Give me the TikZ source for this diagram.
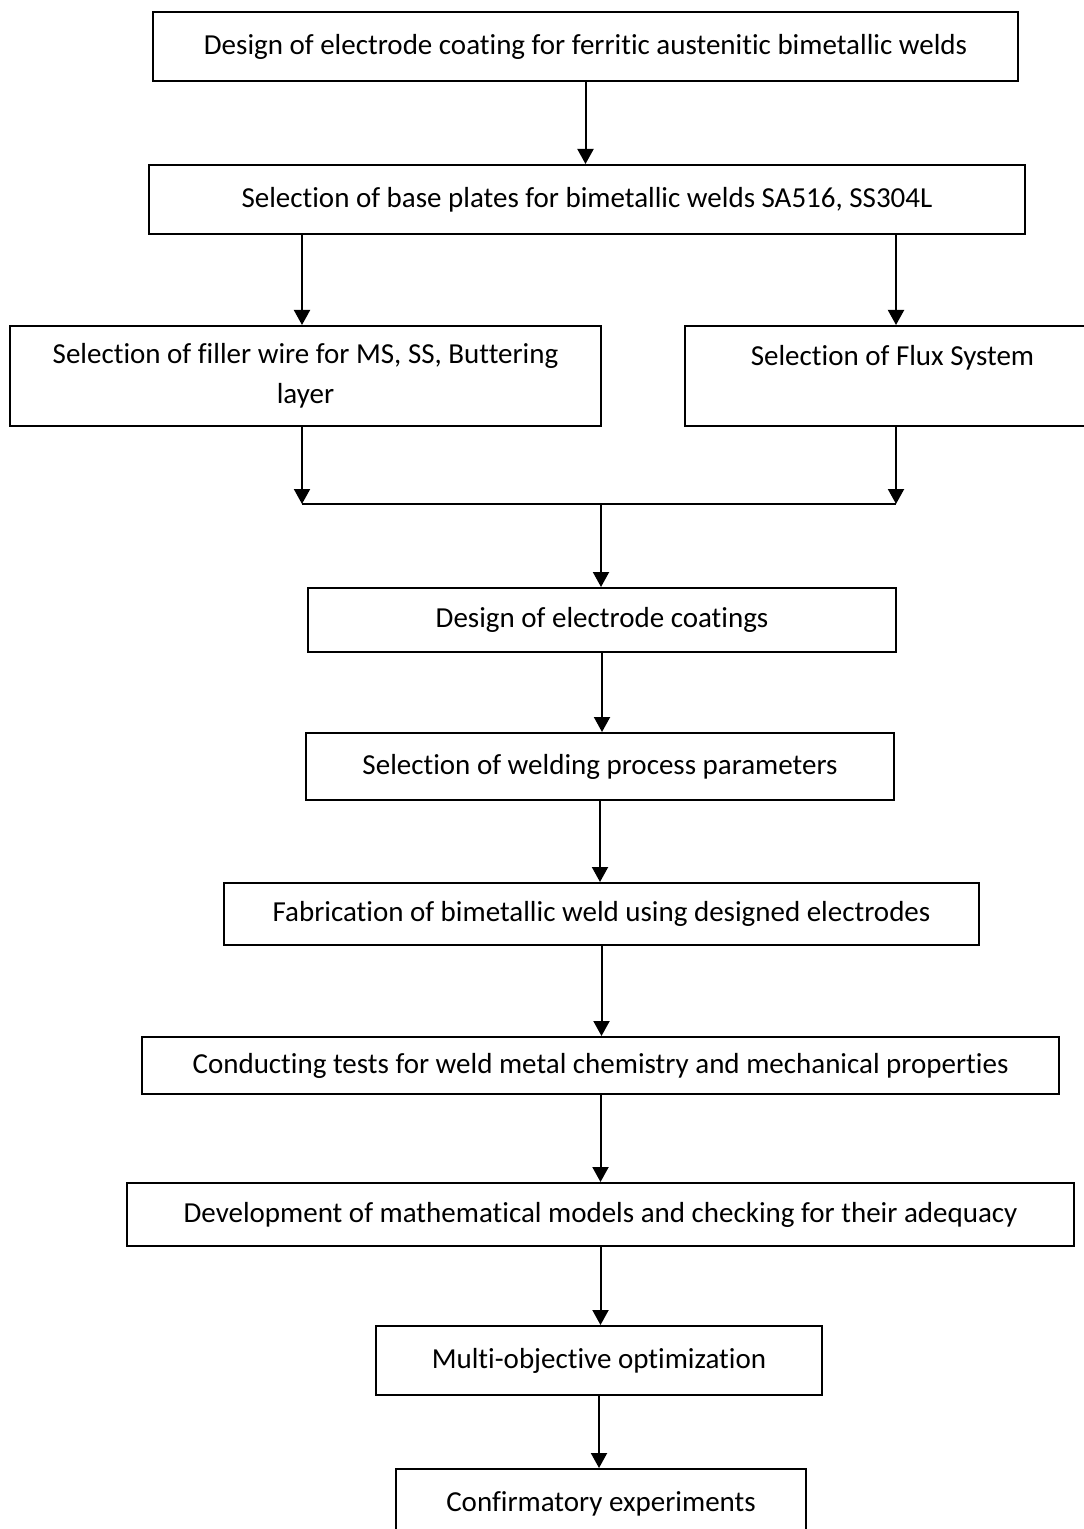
\documentclass[tikz,border=0pt]{standalone}
\usepackage{fontspec}
\setmainfont{Carlito}[Ligatures=NoCommon]
\usetikzlibrary{arrows.meta, positioning, calc}

\begin{document}
\begin{tikzpicture}[
        x=0.5pt, y=-0.5pt,
        box/.style={rectangle, draw=black, fill=white, line width=1pt, inner sep=0pt, align=center, font=\fontsize{14.5}{20}\selectfont},
        flow/.style={-{Triangle[length=7.5pt, width=8pt]}, line width=1pt}
    ]
        \useasboundingbox (0,0) rectangle (1083,1529);

        \node[box, minimum width=432.5pt, minimum height=34.5pt] (design) at (585.5,46.5) {Design of electrode coating for ferritic austenitic bimetallic welds};
        \node[box, minimum width=438pt, minimum height=34.5pt] (plates) at (587,199.5) {Selection of base plates for bimetallic welds SA516, SS304L};

        \node[box, minimum width=295.5pt, minimum height=50pt] (filler) at (305.5,376) {\raisebox{-1.5pt}{Selection of filler wire for MS, SS, Buttering}\\\raisebox{-1.5pt}{layer}};
        \node[box, minimum width=207.5pt, minimum height=50pt] (flux) at (892.5,376) {\raisebox{-1.5pt}{Selection of Flux System}\\\vphantom{y}};

        % join of the two branches
        \coordinate (jl) at (302,504);
        \coordinate (jm) at (601,504);
        \coordinate (jr) at (896,504);

        \node[box, minimum width=294pt, minimum height=32pt] (coat) at (602,620) {Design of electrode coatings};
        \node[box, minimum width=294pt, minimum height=33.5pt] (params) at (600,766.5) {Selection of welding process parameters};
        \node[box, minimum width=377.5pt, minimum height=31pt] (fab) at (601.5,914) {Fabrication of bimetallic weld using designed electrodes};
        \node[box, minimum width=458.5pt, minimum height=28.5pt] (tests) at (600.5,1065.5) {Conducting tests for weld metal chemistry and mechanical properties};
        \node[box, minimum width=473.5pt, minimum height=31.5pt] (models) at (600.5,1214.5) {Development of mathematical models and checking for their adequacy};
        \node[box, minimum width=223pt, minimum height=34.5pt] (optim) at (599,1360.5) {Multi-objective optimization};
        \node[box, minimum width=205pt, minimum height=34.5pt] (confirm) at (601,1503.5) {Confirmatory experiments};

        \draw[flow] (design) -- (design |- plates.north);
        \draw[flow] (plates.south -| jl) -- (filler.north -| jl);
        \draw[flow] (plates.south -| jr) -- (flux.north -| jr);
        \draw[flow] (filler.south -| jl) -- (jl);
        \draw[flow] (flux.south -| jr) -- (jr);
        \draw[line width=1pt] (jl) -- (jr);
        \draw[flow] (jm) -- (coat.north -| jm);

        \foreach \a/\b in {coat/params, params/fab, fab/tests, tests/models, models/optim, optim/confirm}
            \draw[flow] (\a) -- (\a |- \b.north);

    \end{tikzpicture}
\end{document}
